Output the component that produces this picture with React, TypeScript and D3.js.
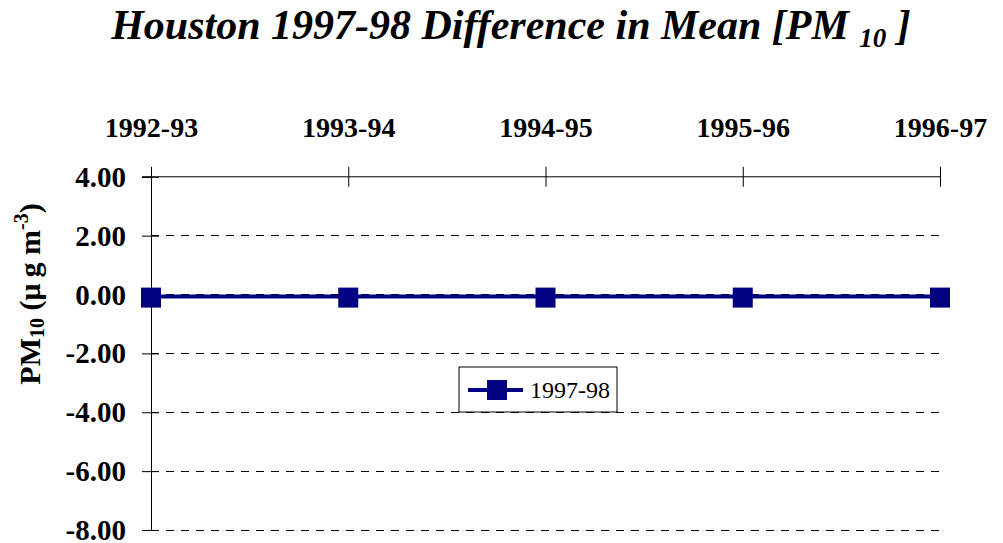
import React, { useEffect, useRef } from 'react';
import * as d3 from 'd3';

const categories = ['1992-93', '1993-94', '1994-95', '1995-96', '1996-97'];
const series9798 = [-0.07, -0.07, -0.07, -0.07, -0.07];
const yTicks = [4, 2, 0, -2, -4, -6, -8];
const seriesName = '1997-98';

const W = 1003;
const H = 543;
const FONT = 'Liberation Serif';
const NAVY = '#000080';

export default function App() {
  const ref = useRef<SVGSVGElement | null>(null);

  useEffect(() => {
    const svg = d3.select(ref.current);
    svg.selectAll('*').remove();

    const x = d3.scalePoint<string>().domain(categories).range([151, 940]);
    const y = d3.scaleLinear().domain([-8, 4]).range([530, 176.8]);

    // title
    const title = svg.append('text')
      .attr('x', 511)
      .attr('y', 39)
      .attr('text-anchor', 'middle')
      .attr('font-family', FONT)
      .attr('font-size', 42)
      .attr('font-weight', 'bold')
      .attr('font-style', 'italic')
      .text('Houston 1997-98 Difference in Mean [PM ');
    title.append('tspan').attr('font-size', 27).attr('dy', 8).text('10');
    title.append('tspan').attr('dy', -8).text(' ]');

    // dashed gridlines
    svg.append('g')
      .selectAll('line')
      .data(yTicks.filter(d => d !== 4))
      .join('line')
      .attr('x1', x(categories[0])!)
      .attr('x2', x(categories[categories.length - 1])!)
      .attr('y1', d => y(d))
      .attr('y2', d => y(d))
      .attr('stroke', '#000')
      .attr('stroke-width', 1)
      .attr('stroke-dasharray', '8,7')
      .attr('shape-rendering', 'crispEdges');

    // top axis
    const top = svg.append('g').attr('transform', `translate(0,${y(4)})`)
      .call(d3.axisTop(x).tickSize(10).tickPadding(30))
      .call(g => g.select('.domain').attr('d', `M${x(categories[0])! - 9},0H${x(categories[categories.length - 1])}`));
    top.selectAll('.tick line').attr('y2', 10).attr('y1', -10);
    top.selectAll('.tick text')
      .attr('font-family', FONT)
      .attr('font-size', 28)
      .attr('font-weight', 'bold')
      .attr('fill', '#000');

    // left axis
    const left = svg.append('g').attr('transform', `translate(${x(categories[0])},0)`)
      .call(d3.axisLeft(y).tickValues(yTicks).tickFormat(d => (+d).toFixed(2)).tickSize(9).tickPadding(16));
    left.selectAll('.tick line').attr('x1', -9).attr('x2', 8);
    left.selectAll('.tick text')
      .attr('font-family', FONT)
      .attr('font-size', 29)
      .attr('font-weight', 'bold')
      .attr('fill', '#000')
      .attr('dy', '0.33em');
    svg.selectAll('.domain').attr('stroke', '#000');

    // y axis label
    const yl = svg.append('text')
      .attr('transform', 'translate(40,294) rotate(-90)')
      .attr('text-anchor', 'middle')
      .attr('font-family', FONT)
      .attr('font-size', 30)
      .attr('font-weight', 'bold')
      .text('PM');
    yl.append('tspan').attr('font-size', 20).attr('dy', 4).text('10');
    yl.append('tspan').attr('dy', -4).text(' (\u03bc\u2009g m');
    yl.append('tspan').attr('font-size', 20).attr('dy', -12).text('-3');
    yl.append('tspan').attr('dy', 12).text(')');

    // series
    const line = d3.line<number>()
      .x((_, i) => x(categories[i])!)
      .y(d => y(d));
    svg.append('path')
      .datum(series9798)
      .attr('d', line)
      .attr('fill', 'none')
      .attr('stroke', NAVY)
      .attr('stroke-width', 4);
    svg.append('g')
      .selectAll('rect')
      .data(series9798)
      .join('rect')
      .attr('x', (_, i) => x(categories[i])! - 10)
      .attr('y', d => y(d) - 9)
      .attr('width', 20)
      .attr('height', 20)
      .attr('fill', NAVY);

    // legend
    const lg = svg.append('g').attr('transform', 'translate(459,367)');
    lg.append('rect')
      .attr('width', 158)
      .attr('height', 45)
      .attr('fill', '#fff')
      .attr('stroke', '#000')
      .attr('stroke-width', 1);
    lg.append('line')
      .attr('x1', 9).attr('x2', 64)
      .attr('y1', 23).attr('y2', 23)
      .attr('stroke', NAVY)
      .attr('stroke-width', 4);
    lg.append('rect')
      .attr('x', 28).attr('y', 13)
      .attr('width', 20).attr('height', 20)
      .attr('fill', NAVY);
    lg.append('text')
      .attr('x', 71).attr('y', 31)
      .attr('font-family', FONT)
      .attr('font-size', 24)
      .text(seriesName);
  }, []);

  return (
    <svg
      ref={ref}
      width={W}
      height={H}
      style={{ position: 'absolute', left: 0, top: 0, background: '#fff' }}
    />
  );
}
